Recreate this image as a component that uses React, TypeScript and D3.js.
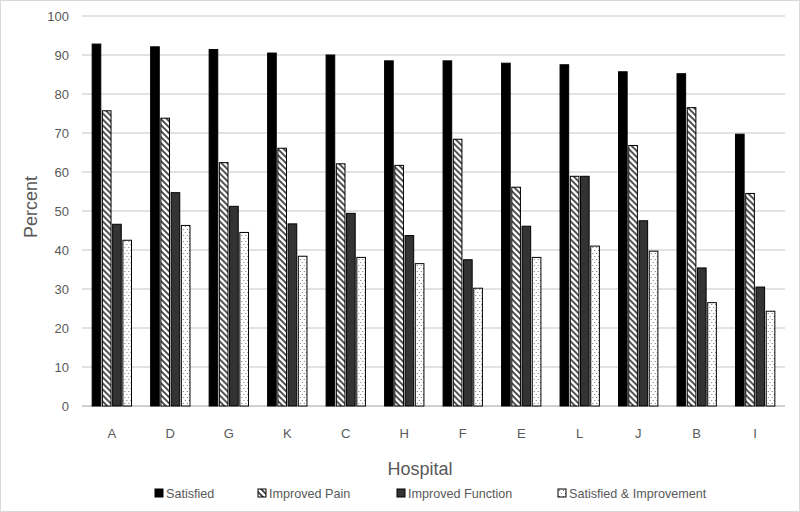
import React from "react";
import * as d3 from "d3";

const categories = ["A", "D", "G", "K", "C", "H", "F", "E", "L", "J", "B", "I"];
const satisfied = [92.8, 92.1, 91.4, 90.5, 90.0, 88.5, 88.5, 87.9, 87.5, 85.7, 85.2, 69.7];
const improvedPain = [75.7, 73.8, 62.4, 66.1, 62.1, 61.7, 68.4, 56.1, 58.9, 66.8, 76.5, 54.5];
const improvedFunction = [46.6, 54.7, 51.2, 46.7, 49.4, 43.7, 37.5, 46.1, 58.9, 47.5, 35.4, 30.5];
const satisfiedImprovement = [42.5, 46.3, 44.5, 38.4, 38.1, 36.5, 30.2, 38.1, 41.0, 39.7, 26.5, 24.3];
const seriesNames = ["Satisfied", "Improved Pain", "Improved Function", "Satisfied & Improvement"];
const yTicks = [0, 10, 20, 30, 40, 50, 60, 70, 80, 90, 100];

const W = 800;
const H = 512;
const FONT = "'Liberation Sans', Arial, sans-serif";

const seriesData = [satisfied, improvedPain, improvedFunction, satisfiedImprovement];
const fills = ["#000000", "url(#hatch)", "#333333", "url(#dots)"];

export default function App() {
  const x0 = d3.scaleBand<string>().domain(categories).range([82, 785]).paddingInner(0.3).paddingOuter(0.16);
  const x1 = d3.scaleBand<string>().domain(seriesNames).range([0, x0.bandwidth()]).padding(0);
  const y = d3.scaleLinear().domain([0, 100]).range([406, 16]);

  const legendX = [155, 258, 397, 558];

  return (
    <svg width={W} height={H} style={{ position: "absolute", left: 0, top: 0, background: "#fff" }} fontFamily={FONT}>
      <defs>
        <pattern id="hatch" patternUnits="userSpaceOnUse" width="6" height="6">
          <rect width="6" height="6" fill="#fff" />
          <path d="M-1,-1 L7,7 M-1,5 L1,7 M5,-1 L7,1" stroke="#3a3a3a" strokeWidth="1.7" />
        </pattern>
        <pattern id="dots" patternUnits="userSpaceOnUse" width="4" height="6">
          <rect width="4" height="6" fill="#fff" />
          <rect x="1" y="1" width="1" height="1" fill="#777" />
          <rect x="3" y="4" width="1" height="1" fill="#777" />
        </pattern>
      </defs>
      <rect x={0.5} y={0.5} width={W - 1} height={H - 1} fill="#fff" stroke="#d9d9d9" />
      {yTicks.map((t) => (
        <g key={t}>
          <line x1={82} x2={785} y1={y(t)} y2={y(t)} stroke={t === 0 ? "#bfbfbf" : "#d9d9d9"} strokeWidth={1.3} />
          <text x={69} y={y(t) + 4.5} textAnchor="end" fontSize={13} fill="#595959">{t}</text>
        </g>
      ))}
      {categories.map((c, i) => (
        <g key={c} transform={`translate(${x0(c)},0)`}>
          {seriesNames.map((s, k) => {
            const v = seriesData[k][i];
            const bw = x1.bandwidth() - 1.6;
            return (
              <rect
                key={s}
                x={(x1(s) as number) + 0.8}
                y={y(v)}
                width={bw}
                height={y(0) - y(v)}
                fill={fills[k]}
                stroke="#000"
                strokeWidth={1}
              />
            );
          })}
          <text x={x0.bandwidth() / 2} y={438} textAnchor="middle" fontSize={13} fill="#595959">{c}</text>
        </g>
      ))}
      <text transform="translate(37,207) rotate(-90)" textAnchor="middle" fontSize={18} fill="#595959">Percent</text>
      <text x={420} y={475} textAnchor="middle" fontSize={18} fill="#595959">Hospital</text>
      {seriesNames.map((s, k) => (
        <g key={s}>
          <rect x={legendX[k]} y={489} width={8} height={8} fill={fills[k]} stroke="#000" strokeWidth={1} />
          <text x={legendX[k] + 11} y={497.5} fontSize={12.6} fill="#595959">{s}</text>
        </g>
      ))}
    </svg>
  );
}
